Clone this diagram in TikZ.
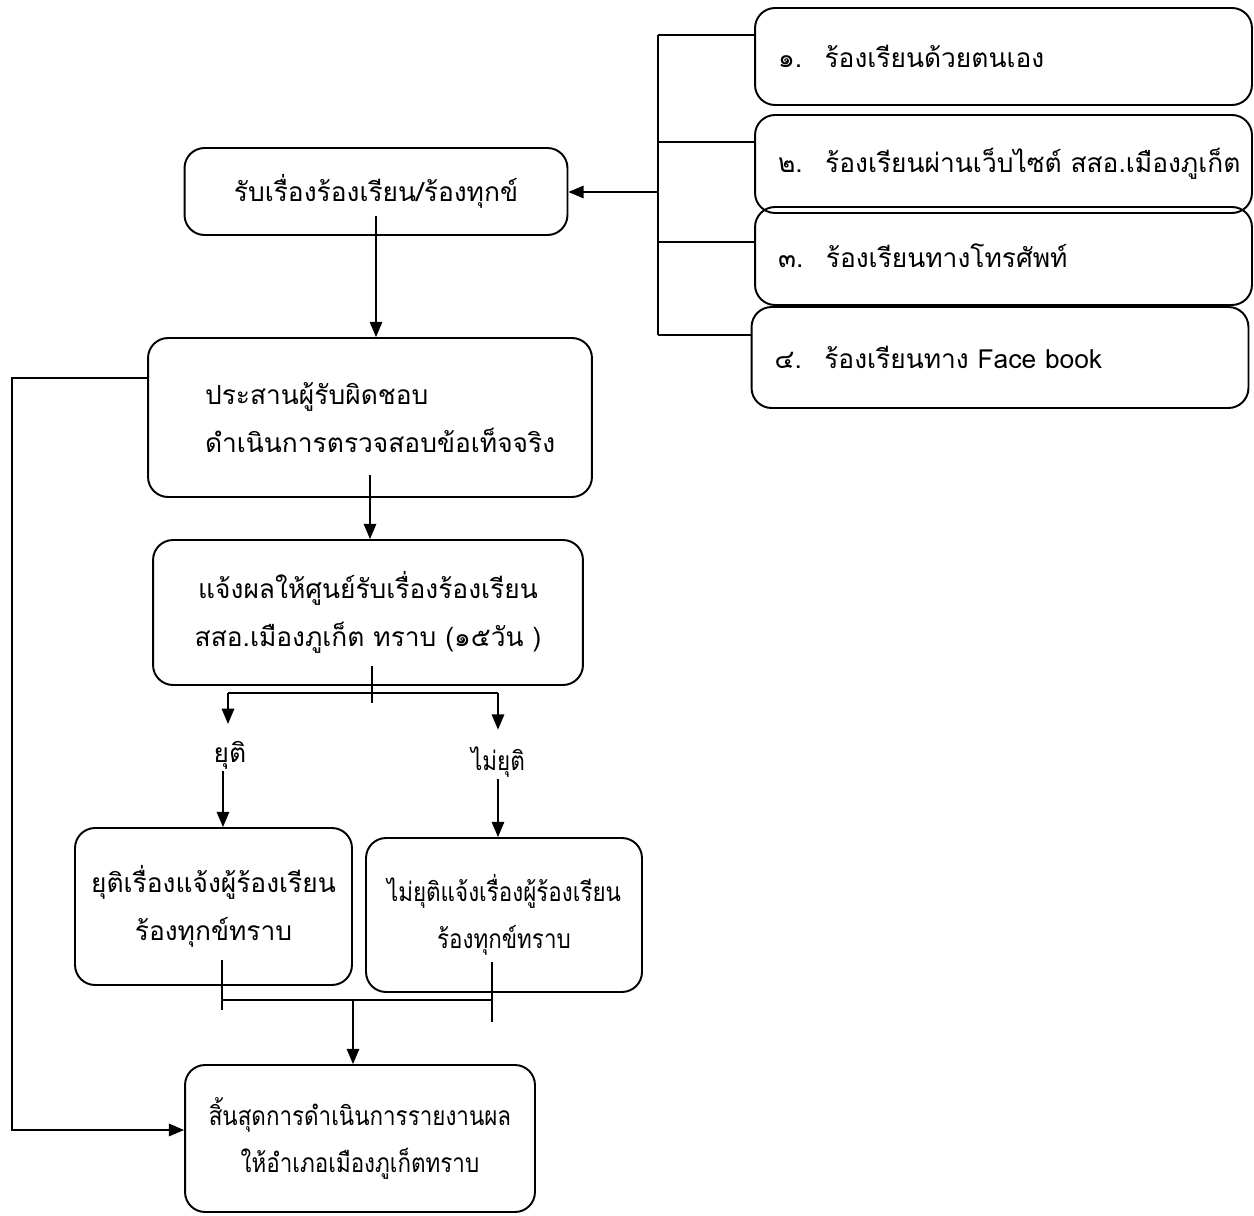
\documentclass[tikz,border=0pt]{standalone}
\usepackage{fontspec}
\setmainfont[Script=Thai]{Loma}
\newfontfamily\thainarrow[Script=Thai,FakeStretch=0.85]{Loma}
\usepackage{tikz}
\usetikzlibrary{arrows,shapes}
\newcommand{\thaisize}{\fontsize{15pt}{27pt}\selectfont}
\tikzstyle{step box}=[draw, rounded corners=0.4cm, line width=1.1pt, inner sep=0pt, align=center, font=\thaisize]
\tikzstyle{source box}=[draw, rounded corners=0.4cm, line width=1.1pt, inner ysep=0pt, inner xsep=0.46cm, align=left, text width=9.02cm, font=\thaisize]
\tikzstyle{edge} = [draw,line width=1pt,-]
\tikzstyle{flow} = [draw,line width=1pt,-triangle 45]
\tikzstyle{note} = [draw=none, inner sep=1pt, align=center, font=\thaisize]

\begin{document}
\begin{tikzpicture}[x=0.02cm, y=-0.02cm]
	\useasboundingbox (0,0) rectangle (1254,1216);
	% First we draw the channels of complaint
	\foreach \pos/\label/\height/\name in {
		{(1003.5,56.5)/s1/1.94cm/๑.\hspace{0.45cm}ร้องเรียนด้วยตนเอง},
		{(1003.5,164)/s2/1.96cm/๒.\hspace{0.45cm}ร้องเรียนผ่านเว็บไซต์ สสอ.เมืองภูเก็ต},
		{(1003.5,256)/s3/1.96cm/๓.\hspace{0.45cm}ร้องเรียนทางโทรศัพท์},
		{(1000,357.5)/s4/2.02cm/๔.\hspace{0.45cm}ร้องเรียนทาง Face book}}
	\node[source box, minimum height=\height] (\label) at \pos {\mbox{\name}};

	% Then the steps of the procedure
	\node[step box, minimum width=7.66cm, minimum height=1.74cm] (recv) at (376,191.5) {รับเรื่องร้องเรียน/ร้องทุกข์};
	\node[step box, align=left, text width=6.6cm, inner xsep=1.14cm, minimum height=3.18cm] (coord) at (370,417.5) {ประสานผู้รับผิดชอบ\\ดำเนินการตรวจสอบข้อเท็จจริง};
	\node[step box, minimum width=8.6cm, minimum height=2.9cm] (notify) at (368,612.5) {แจ้งผลให้ศูนย์รับเรื่องร้องเรียน\\สสอ.เมืองภูเก็ต ทราบ (๑๕วัน )};
	\node[note] (yes) at (230,755) {ยุติ};
	\node[note] (no) at (498,762) {\thainarrow ไม่ยุติ};
	\node[step box, minimum width=5.54cm, minimum height=3.14cm] (done) at (213.5,906.5) {ยุติเรื่องแจ้งผู้ร้องเรียน\\ร้องทุกข์ทราบ};
	\node[step box, minimum width=5.52cm, minimum height=3.08cm] (notdone) at (504,915) {\thainarrow ไม่ยุติแจ้งเรื่องผู้ร้องเรียน\\\thainarrow ร้องทุกข์ทราบ};
	\node[step box, minimum width=7cm, minimum height=2.94cm] (final) at (360,1138.5) {\thainarrow สิ้นสุดการดำเนินการรายงานผล\\\thainarrow ให้อำเภอเมืองภูเก็ตทราบ};

	% Connect the channels to the receiving step
	\coordinate (bus top) at (658,35);
	\coordinate (bus bottom) at (658,335);
	\coordinate (bus mid) at (658,192);
	\path[edge] (bus top) -- (bus bottom);
	\foreach \label/\y in {s1/35, s2/142, s3/242, s4/335}
	\path[edge] (658,\y) -- (658,\y -| \label.west);
	\path[flow] (bus mid) -- (bus mid -| recv.east);

	% Main flow
	\path[flow] ([yshift=0.4cm]recv.south) -- (recv.south |- coord.north);
	\path[flow] ([yshift=0.45cm]coord.south) -- (coord.south |- notify.north);
	\coordinate (fork) at (372,693);
	\coordinate (fork left) at (228,693);
	\coordinate (fork right) at (498,693);
	\path[edge] ([yshift=0.4cm]notify.south -| fork) -- ([yshift=-0.2cm]fork);
	\path[edge] (fork left) -- (fork right);
	\path[flow] (fork left) -- ([yshift=0.3cm]yes.north -| fork left);
	\path[flow] (fork right) -- ([yshift=0.3cm]no.north -| fork right);
	\path[flow] ([xshift=-4pt]yes.south) -- ([xshift=-4pt]yes.south |- done.north);
	\path[flow] (no.south) -- (no.south |- notdone.north);

	% Join both results
	\coordinate (done end) at (222,960);
	\coordinate (notdone end) at (492,962);
	\coordinate (join left) at (222,1000);
	\coordinate (join right) at (492,1000);
	\coordinate (join) at (353,1000);
	\path[edge] (done end) -- ([yshift=-0.2cm]join left);
	\path[edge] (notdone end) -- ([yshift=-0.44cm]join right);
	\path[edge] (join left) -- (join right);
	\path[flow] (join) -- (join |- final.north);

	% Return line on the left
	\coordinate (back top) at (12,378);
	\coordinate (back bottom) at (12,1130);
	\path[flow] (back top -| coord.west) -- (back top) -- (back bottom) -- (back bottom -| final.west);
\end{tikzpicture}
\end{document}
